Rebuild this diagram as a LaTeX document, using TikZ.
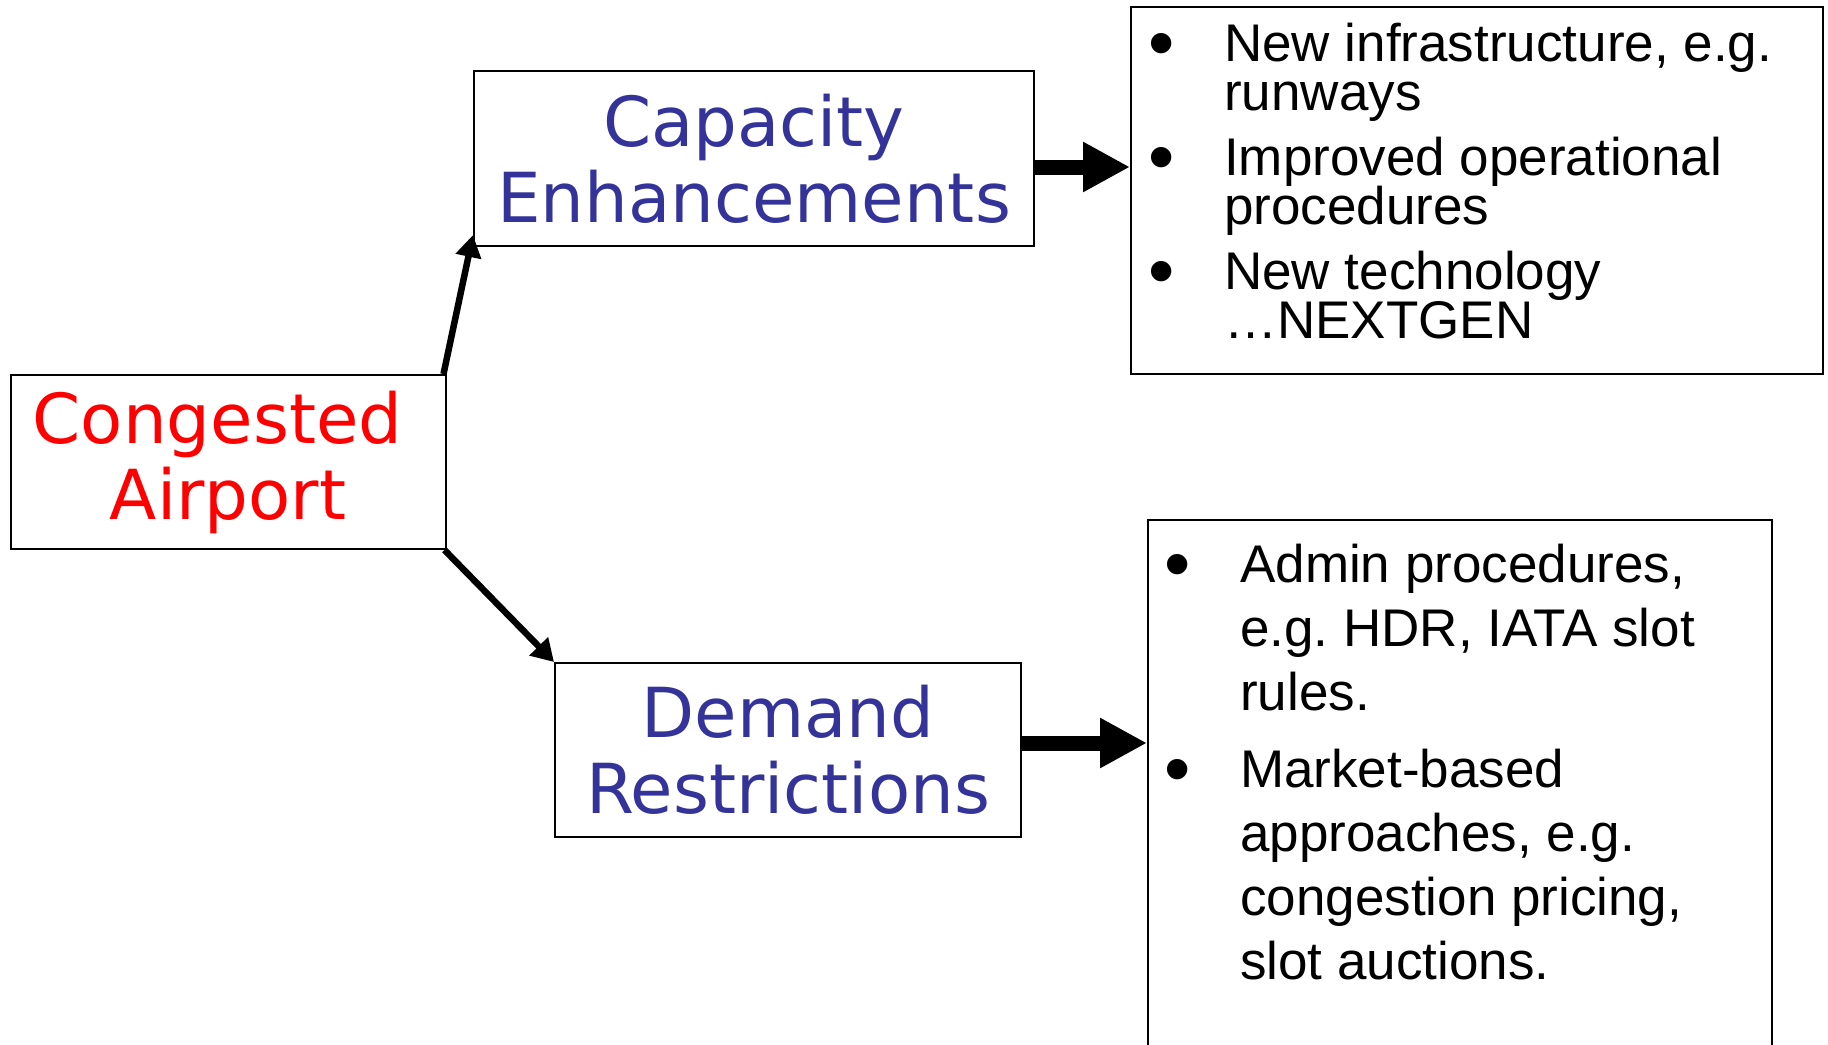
\documentclass[tikz,border=0pt]{standalone}
\usepackage{fontspec}
\newfontfamily\headfont{DejaVu Sans}
\newfontfamily\listfont{Liberation Sans}
\usetikzlibrary{arrows.meta}
\definecolor{headblue}{RGB}{51,51,153}
\newcommand\litem[1]{\par\noindent\hangindent=72pt\hangafter=1%
  \makebox[72pt][l]{\hspace*{-4pt}\raisebox{-7.5pt}{\fontsize{75}{0}\selectfont\textbullet}}#1}

\tikzset{
  box/.style      = {draw, line width=2pt, rectangle, inner sep=0pt},
  heading/.style  = {box, align=center, font=\headfont\fontsize{69}{76}\selectfont},
  items/.style    = {inner sep=0pt, anchor=base west, font=\listfont\fontsize{53}{#1}\selectfont\frenchspacing},
  link/.style     = {line width=6.5pt, -{Triangle[length=22pt,width=25pt]}},
  blockarrow/.style = {line width=15pt, -{Triangle[length=47pt,width=47pt]}}
}

\begin{document}
\begin{tikzpicture}[x=1pt,y=-1pt]
   \useasboundingbox (0,0) rectangle (1828,1044);
   \clip (0,0) rectangle (1828,1044);
   \node[heading, text=red, minimum width=435pt, minimum height=174pt] (cong) at (228,462) {Congested\kern21pt\\Airport};
   \node[heading, text=headblue, minimum width=560pt, minimum height=175pt] (cap) at (754,158.5) {Capacity\\Enhancements};
   \node[heading, text=headblue, minimum width=466pt, minimum height=174pt] (dem) at (788,750) {Demand\\Restrictions};
   \node[box, minimum width=692pt, minimum height=367pt] (caplist) at (1477,190.5) {};
   \node[box, minimum width=624pt, minimum height=600pt, anchor=north west] (demlist) at (1147,519) {};
   \node[items=49] (capitems) at (1152,61) {\parbox[t]{660pt}{\raggedright\lineskiplimit=-500pt\parskip=16pt
      \litem{New infrastructure, e.g.\newline runways}
      \litem{Improved operational\newline procedures}
      \litem{New technology\newline …NEXTGEN}}};
   \node[items=64] (demitems) at (1168,582) {\parbox[t]{595pt}{\raggedright\lineskiplimit=-500pt\parskip=13pt
      \litem{Admin procedures,\newline e.g. HDR, IATA slot\newline rules.}
      \litem{Market-based\newline approaches, e.g.\newline congestion pricing,\newline slot auctions.}}};
   \draw[link] ([xshift=-3pt]cong.north east) -- ([yshift=12pt]cap.south west);
   \draw[link] ([xshift=-2pt]cong.south east) -- (dem.north west);
   \draw[blockarrow] ([yshift=-8.5pt]cap.east) -- ([yshift=-8.5pt]cap.east -| caplist.west);
   \draw[blockarrow] ([xshift=-2pt,yshift=7pt]dem.east) -- ([yshift=7pt]dem.east -| demlist.west);
\end{tikzpicture}
\end{document}
